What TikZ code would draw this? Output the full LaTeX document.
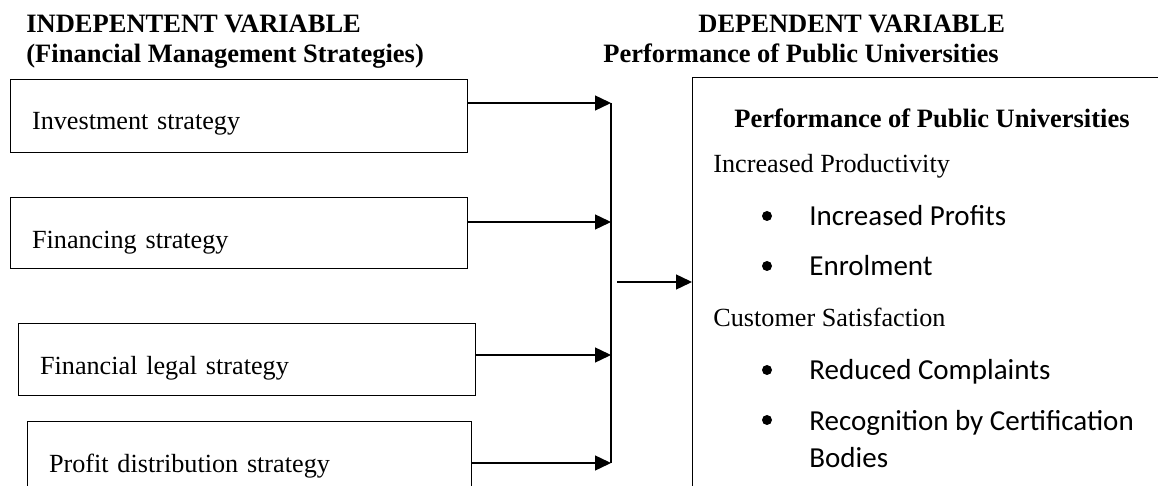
\documentclass[tikz,border=0pt]{standalone}
\usepackage{fontspec}
\setmainfont{Liberation Serif}
\newfontfamily\calib{Carlito}
\usetikzlibrary{arrows.meta}
\begin{document}
\begin{tikzpicture}[x=0.5pt,y=-0.5pt,
  hdr/.style={anchor=base west,inner sep=0pt,font=\fontsize{13.25}{16}\selectfont\bfseries},
  txt/.style={anchor=base west,inner sep=0pt,font=\fontsize{13.1}{16}\selectfont},
  itm/.style={anchor=base west,inner sep=0pt,font=\calib\fontsize{14.5}{17}\selectfont},
  stratbox/.style={draw,line width=0.55pt,anchor=north west,align=left,
    inner xsep=10.75pt,text depth=0pt,font=\fontsize{13.1}{16}\selectfont},
  arr/.style={-{Triangle[length=8pt,width=7.5pt]},line width=0.7pt},
  ln/.style={line width=0.7pt},
  dot/.style={circle,fill,inner sep=0pt,minimum size=5pt}]
\clip (0,0) rectangle (1158,486);
\fill[white] (0,0) rectangle (1158,486);
% headers
\node[hdr] (h1) at (26,33) {INDEPENTENT VARIABLE};
\node[hdr] (h2) at (26,63) {(Financial Management Strategies)};
\node[hdr] (h3) at (698,33) {DEPENDENT VARIABLE};
\node[hdr] (h4) at (603,63) {Performance of Public Universities};
% strategy boxes
\node[stratbox,minimum width=228.5pt,text width=207pt,minimum height=36.5pt,text height=13.5pt] (b1) at (10,79) {Investment strategy};
\node[stratbox,minimum width=228.5pt,text width=207pt,minimum height=35.5pt,text height=15.5pt] (b2) at (10,197) {Financing strategy};
\node[stratbox,minimum width=228.5pt,text width=207pt,minimum height=36pt,text height=15pt] (b3) at (18,323) {Financial legal strategy};
\node[stratbox,minimum width=222pt,text width=200.5pt,minimum height=36.5pt,text height=14.5pt] (b4) at (27,421) {Profit distribution strategy};
% performance box
\node[draw,line width=0.55pt,anchor=north west,minimum width=300pt,minimum height=250pt] (pbox) at (692,77) {};
% connectors
\coordinate (t1) at (611,103);
\coordinate (t2) at (611,222);
\coordinate (t3) at (611,355);
\coordinate (t4) at (611,463);
\coordinate (m) at (617,282);
\draw[ln] (t1) -- (t4);
\draw[arr] (b1.east |- t1) -- (t1);
\draw[arr] (b2.east |- t2) -- (t2);
\draw[arr] (b3.east |- t3) -- (t3);
\draw[arr] (b4.east |- t4) -- (t4);
\draw[arr] (m) -- (m -| pbox.west);
% performance box contents
\node[hdr] (ptitle) at (734,128) {Performance of Public Universities};
\node[txt] (prod) at (713,173) {Increased Productivity};
\node[dot] (d1) at (767,216) {};
\node[itm] (i1) at (809,226) {Increased Profits};
\node[dot] (d2) at (767,266) {};
\node[itm] (i2) at (809,276) {Enrolment};
\node[txt] (cust) at (713,327) {Customer Satisfaction};
\node[dot] (d3) at (767,370) {};
\node[itm] (i3) at (809,380) {Reduced Complaints};
\node[dot] (d4) at (767,420) {};
\node[itm] (i4) at (809,430) {Recognition by Certification};
\node[itm] (i5) at (809,468) {Bodies};
\end{tikzpicture}
\end{document}
